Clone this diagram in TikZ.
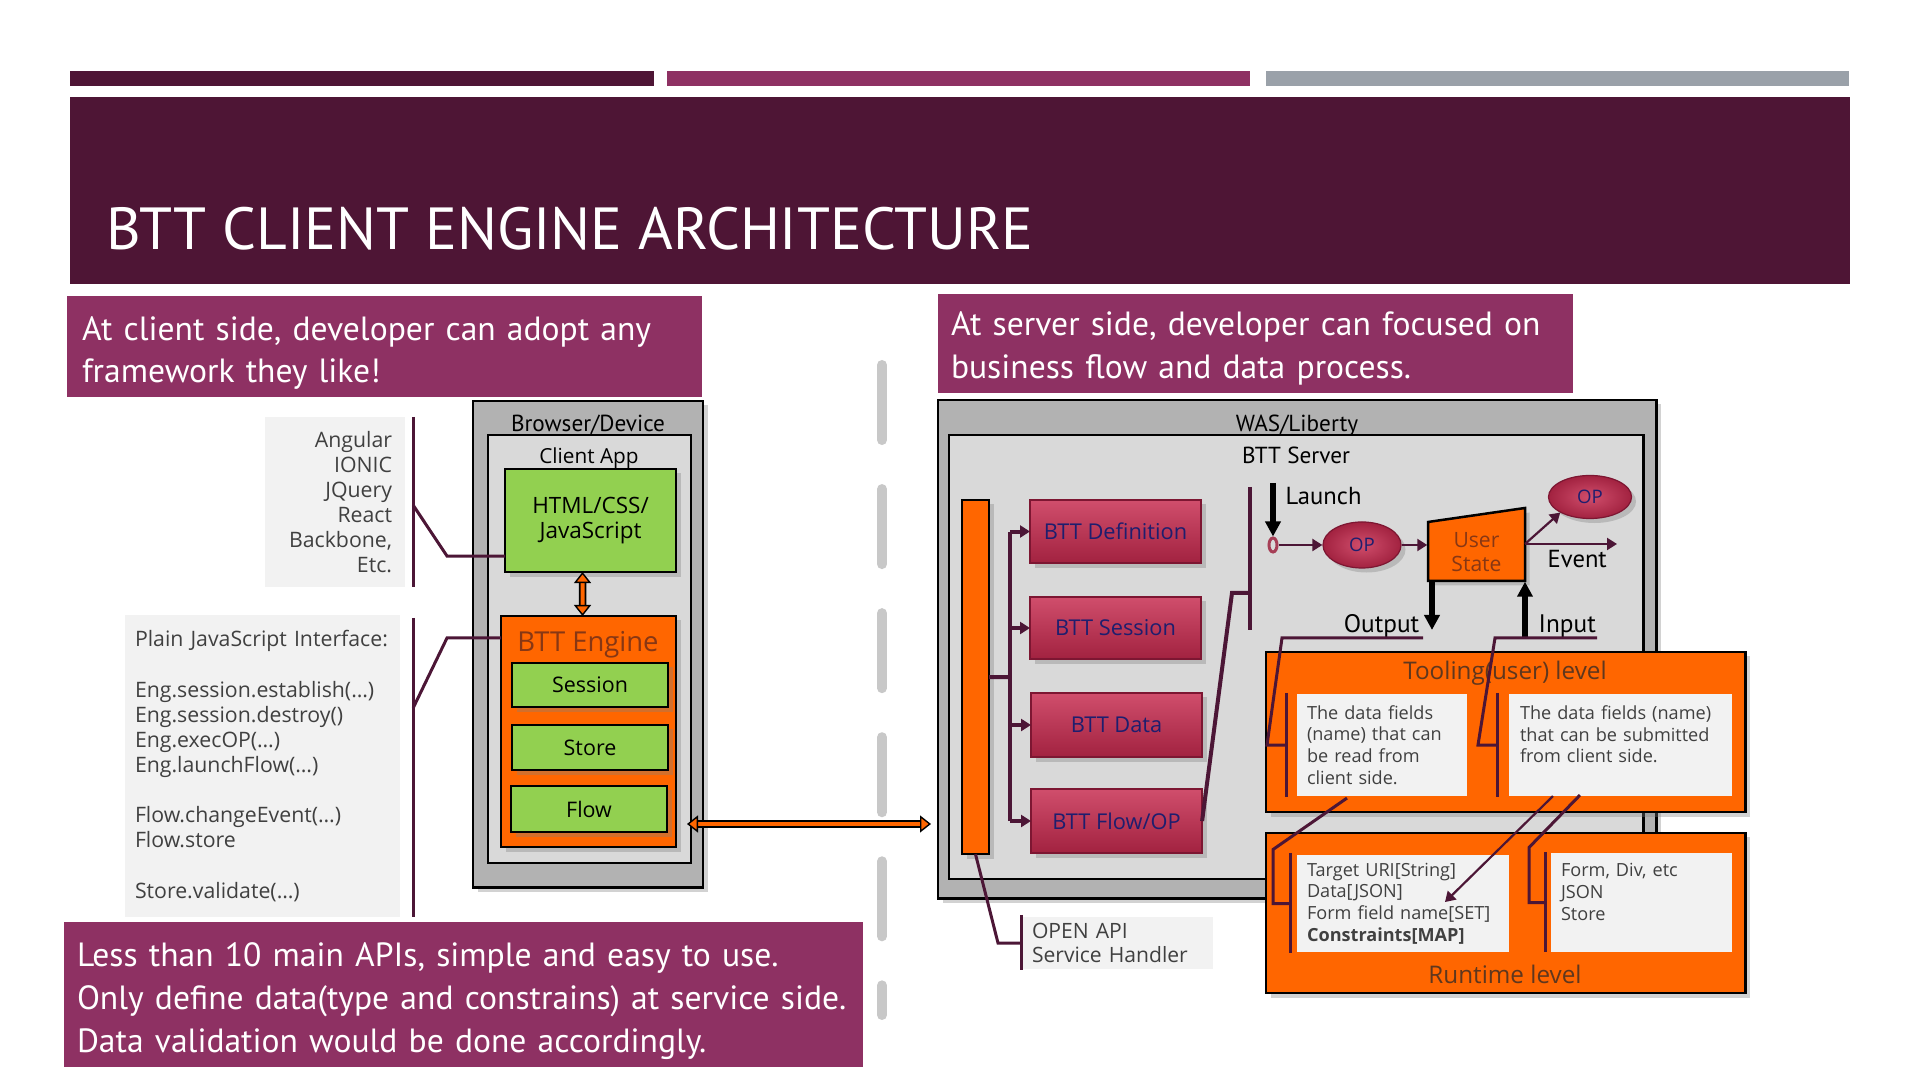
\documentclass[tikz,border=0pt]{standalone}
\usepackage{fontspec}
\setmainfont{Open Sans}
\newfontfamily\gill{PT Sans}
\usetikzlibrary{positioning,calc,shadows,arrows.meta,shapes.geometric}

\definecolor{plum}{RGB}{78,21,53}
\definecolor{berry}{RGB}{142,49,99}
\definecolor{slate}{RGB}{154,161,169}
\definecolor{wirecol}{RGB}{76,22,54}
\definecolor{btorange}{RGB}{255,102,0}
\definecolor{leaf}{RGB}{146,208,80}
\definecolor{paper}{RGB}{242,242,242}
\definecolor{ink}{RGB}{64,64,64}
\definecolor{navy}{RGB}{30,30,110}
\definecolor{rust}{RGB}{135,55,20}
\definecolor{bark}{RGB}{95,55,30}
\definecolor{shellgray}{RGB}{178,178,178}
\definecolor{panegray}{RGB}{217,217,217}
\definecolor{splitgray}{RGB}{200,200,200}
\definecolor{redtop}{RGB}{208,78,108}
\definecolor{redbot}{RGB}{162,34,64}
\definecolor{redline}{RGB}{125,22,50}

% invisible strut that lowers the text block of a banner
\newcommand\lift[1]{\rule{0pt}{#1}}

\tikzset{
    sized/.style 2 args={anchor=north west, minimum width=#1cm, minimum height=#2cm, inner sep=0pt, outer sep=0pt},
    castshadow/.style={drop shadow={shadow xshift=0.045cm, shadow yshift=-0.045cm, opacity=0.35}},
    banner/.style={fill=berry, text=white, align=left, font=\gill\fontsize{9.55}{12.2}\selectfont},
    panel/.style={fill=paper, text=ink, font=\fontsize{6.05}{7.15}\selectfont},
    smallpanel/.style={fill=paper, text=ink, align=left, font=\fontsize{5.15}{6.2}\selectfont},
    shell/.style={fill=shellgray, draw=black, line width=0.025cm, castshadow},
    pane/.style={fill=panegray, draw=black, line width=0.025cm},
    leafbox/.style={fill=leaf, draw=black, line width=0.025cm, align=center, font=\fontsize{6.1}{7.2}\selectfont, castshadow},
    engbox/.style={fill=btorange, draw=black, line width=0.025cm, castshadow},
    redbox/.style={top color=redtop, bottom color=redbot, draw=redline, line width=0.015cm, text=navy, font=\fontsize{6.2}{7}\selectfont, castshadow},
    opnode/.style={ellipse, inner sep=0pt, draw=redline, line width=0.012cm, inner color=redtop, outer color=redbot, text=navy, font=\fontsize{5.3}{6}\selectfont, castshadow},
    lbl/.style={anchor=base, inner sep=0pt, font=\gill\fontsize{6.6}{8}\selectfont},
    levellbl/.style={anchor=base, text=bark, font=\fontsize{6.9}{8}\selectfont},
    wire/.style={draw=wirecol, line width=0.04cm},
    bracket/.style={draw=wirecol, line width=0.03cm},
    thinwire/.style={draw=wirecol, line width=0.022cm},
    arrowed/.style={-{Triangle[length=0.1cm,width=0.12cm]}},
    heavy/.style={draw=black, line width=0.055cm, -{Triangle[length=0.15cm,width=0.15cm]}},
    fatback/.style={draw=black, line width=0.075cm, shorten <=0.09cm, shorten >=0.09cm},
    fatfront/.style={draw=btorange, line width=0.04cm, >={Triangle[color=black,fill=btorange,length=0.11cm,width=0.17cm,line width=0.4pt]}, <->},
    splitline/.style={draw=splitgray, line width=0.1cm, line cap=round, dash pattern=on 0.75cm off 0.49cm},
}

\begin{document}
\begin{tikzpicture}[x=0.01cm, y=-0.01cm]
    \fill[white] (0,0) rectangle (1920,1080);
    \useasboundingbox (0,0) rectangle (1920,1080);

    % title area
    \foreach \xa/\xb/\c in {70/654/plum, 667/1250/berry, 1266/1849/slate}
        \fill[\c] (\xa,71) rectangle (\xb,86);
    \node[sized={17.79}{1.87}, fill=plum] (band) at (70,97) {};
    \node[anchor=base west, inner sep=0pt, text=white, font=\gill\fontsize{16.9}{18}\selectfont] (title) at (106,250) {BTT CLIENT ENGINE ARCHITECTURE};

    \node[banner, sized={6.35}{1.01}, inner xsep=0.15cm, text width=6.05cm] (hdrL) at (67,296) {\lift{10.5pt}At client side, developer can adopt any\\framework they like!};
    \node[banner, sized={6.35}{0.99}, inner xsep=0.13cm, text width=6.09cm] (hdrR) at (938,294) {\lift{9.8pt}At server side, developer can focused on\\business flow and data process.};
    \node[banner, sized={7.99}{1.45}, inner xsep=0.13cm, text width=7.73cm] (note) at (64,922) {\lift{10.5pt}Less than 10 main APIs, simple and easy to use.\\Only define data(type and constrains) at service side.\\Data validation would be done accordingly.};

    \draw[splitline] (882,365) -- (882,1015);

    % client side
    \node[panel, sized={1.40}{1.70}, align=right, inner xsep=0.13cm, text width=1.14cm] (fwbox) at (265,417) {Angular\\IONIC\\JQuery\\React\\Backbone,\\Etc.};
    \node[panel, sized={2.75}{3.02}, align=left, inner xsep=0.1cm, text width=2.55cm] (apibox) at (125,615) {Plain JavaScript Interface:\\~\\Eng.session.establish(…)\\Eng.session.destroy()\\Eng.execOP(…)\\Eng.launchFlow(…)\\~\\Flow.changeEvent(…)\\Flow.store\\~\\Store.validate(…)};

    \node[shell, sized={2.30}{4.86}] (browser) at (473,401) {};
    \node[lbl] (browserlbl) at (588,432) {Browser/Device};
    \node[pane, sized={2.03}{4.28}] (client) at (488,435) {};
    \node[anchor=base, font=\fontsize{5.9}{7}\selectfont] (clientlbl) at (589,464) {Client App};
    \node[leafbox, sized={1.71}{1.03}, font=\fontsize{6.4}{7.2}\selectfont] (html) at (505,469) {HTML/CSS/\\JavaScript};
    \node[engbox, sized={1.75}{2.31}] (engine) at (501,616) {};
    \node[anchor=base, text=rust, font=\fontsize{7.8}{9}\selectfont] (enginelbl) at (588,652) {BTT Engine};
    \node[leafbox, sized={1.56}{0.44}] (sess) at (512,663) {Session};
    \node[leafbox, sized={1.56}{0.45}] (store) at (512,725) {Store};
    \node[leafbox, sized={1.56}{0.46}] (flow) at (511,786) {Flow};

    \draw[fatback] ([xshift=-0.08cm]html.south) -- ([xshift=-0.06cm]engine.north);
    \draw[fatfront] ([xshift=-0.08cm]html.south) -- ([xshift=-0.06cm]engine.north);

    \draw[bracket] ($(fwbox.north east)+(8,0)$) -- ($(fwbox.south east)+(8,0)$);
    \draw[bracket] ($(fwbox.east)+(8,3)$) -- ($(html.south west)+(-58,-16)$) -- ($(html.south west)+(0,-16)$);
    \draw[bracket] ($(apibox.north east)+(13,3)$) -- ($(apibox.south east)+(13,0)$);
    \draw[bracket] ($(apibox.north east)+(13,93)$) -- ($(engine.north west)+(-54,22)$) -- ($(engine.north west)+(0,22)$);

    % server side
    \node[shell, sized={7.18}{4.98}] (was) at (938,400) {};
    \node[lbl] (waslbl) at (1297,432) {WAS/Liberty};
    \node[pane, sized={6.94}{4.44}] (server) at (949,435) {};
    \node[lbl] (serverlbl) at (1296,464) {BTT Server};

    \coordinate (cliport) at (687,824);
    \coordinate (srvport) at (931,824);
    \draw[fatback] (cliport) -- (srvport);
    \draw[fatfront] (cliport) -- (srvport);

    \node[engbox, sized={0.27}{3.54}] (apibar) at (962,500) {};
    \node[redbox, sized={1.71}{0.63}] (def) at (1030,500) {BTT Definition};
    \node[redbox, sized={1.71}{0.62}] (sessn) at (1030,597) {BTT Session};
    \node[redbox, sized={1.71}{0.64}] (data) at (1031,693) {BTT Data};
    \node[redbox, sized={1.71}{0.64}] (flowop) at (1031,789) {BTT Flow/OP};

    \coordinate (jn) at (1010,677);
    \draw[wire] (apibar.east) -- (jn);
    \draw[wire] (jn |- def.west) -- (jn |- flowop.west);
    \foreach \blk in {def,sessn,data,flowop}
        \draw[wire, arrowed] (jn |- \blk.west) -- (\blk.west);

    \coordinate (hub) at (1250,593);
    \coordinate (hubtop) at (1250,487);
    \coordinate (hubbot) at (1250,630);
    \draw[wire] (hubtop) -- (hubbot);
    \draw[wire] (flowop.east) -- ($(hub)+(-18,0)$) -- (hub);

    % flow of the user state
    \coordinate (launchsrc) at (1273,483);
    \node[ellipse, draw=redtop!80!black, fill=panegray, line width=0.03cm, minimum width=0.08cm, minimum height=0.14cm, inner sep=0pt] (ring) at (1273,545) {};
    \draw[heavy] (launchsrc) -- (ring.north);
    \node[lbl, anchor=base west, font=\gill\fontsize{7}{8}\selectfont] (launchlbl) at (1285,505) {Launch};
    \node[opnode, minimum width=0.78cm, minimum height=0.46cm] (op1) at (1362,545) {OP};
    \filldraw[fill=btorange, draw=black, line width=0.025cm, castshadow] (1428,581) -- (1525,581) -- (1525,508) -- (1428,522) -- cycle;
    \node[minimum width=0.97cm, minimum height=0.58cm, inner sep=0pt, align=center, text=rust, font=\fontsize{6}{7}\selectfont] (ustate) at (1476.5,552) {User\\State};
    \node[opnode, minimum width=0.83cm, minimum height=0.43cm] (op2) at (1590,497) {OP};
    \coordinate (stateout) at (1525,544);
    \coordinate (eventout) at (1617,544);
    \draw[thinwire, arrowed] (ring.east) -- (op1.west);
    \draw[thinwire, arrowed] (op1.east) -- (op1.east -| ustate.west);
    \draw[thinwire, arrowed] (stateout) -- (op2.south west);
    \draw[thinwire, arrowed] (stateout) -- (eventout);
    \node[lbl, anchor=base west, font=\gill\fontsize{7}{8}\selectfont] (eventlbl) at (1547,568) {Event};

    \coordinate (outtip) at (1432,630);
    \coordinate (insrc) at (1525,637);
    \draw[heavy] (ustate.south west -| outtip) -- (outtip);
    \draw[heavy] (insrc) -- (insrc |- ustate.south);
    \node[lbl, anchor=base east, font=\gill\fontsize{7.2}{8}\selectfont] (outlbl) at (1420,633) {Output};
    \node[lbl, anchor=base west, font=\gill\fontsize{7.2}{8}\selectfont] (inlbl) at (1538,633) {Input};

    % levels
    \node[engbox, sized={4.79}{1.60}] (tool) at (1266,652) {};
    \node[levellbl] (toollbl) at (1505,680) {Tooling(user) level};
    \node[smallpanel, sized={1.70}{1.02}, inner xsep=0.1cm, text width=1.5cm] (tb1) at (1297,694) {The data fields\\(name) that can\\be read from\\client side.};
    \node[smallpanel, sized={2.23}{1.02}, inner xsep=0.11cm, text width=2.01cm] (tb2) at (1509,694) {The data fields (name)\\that can be submitted\\from client side.\\~};

    \node[engbox, sized={4.79}{1.60}] (rt) at (1266,833) {};
    \node[levellbl] (rtlbl) at (1505,984) {Runtime level};
    \node[smallpanel, sized={2.12}{0.97}, inner xsep=0.1cm, text width=1.92cm] (rb1) at (1297,855) {Target URI[String]\\Data[JSON]\\Form field name[SET]\\\textbf{Constraints[MAP]}};
    \node[smallpanel, sized={1.81}{0.99}, inner xsep=0.1cm, text width=1.61cm] (rb2) at (1551,853) {Form, Div, etc\\JSON\\Store\\~};

    \coordinate (outln) at (1423,638);
    \coordinate (inln) at (1597,638);
    \draw[bracket] (outln) -- ++(-141,0) -- ($(tb1.west)+(-30,0)$) -- ($(tb1.west)+(-11,0)$);
    \draw[bracket] ($(tb1.north west)+(-11,-1)$) -- ($(tb1.south west)+(-11,1)$);
    \draw[bracket] (inln) -- ++(-102,0) -- ($(tb2.west)+(-31,0)$) -- ($(tb2.west)+(-12,0)$);
    \draw[bracket] ($(tb2.north west)+(-12,-1)$) -- ($(tb2.south west)+(-12,1)$);

    \draw[bracket] ($(tb1.south west)+(50,2)$) -- ($(rb1.west)+(-24,-54)$) -- ($(rb1.west)+(-24,0)$) -- ($(rb1.west)+(-7,0)$);
    \draw[bracket] ($(rb1.north west)+(-7,-2)$) -- ($(rb1.south west)+(-7,1)$);
    \draw[bracket] ($(tb2.south west)+(71,-1)$) -- ($(rb2.west)+(-22,-55)$) -- ($(rb2.west)+(-22,0)$) -- ($(rb2.west)+(-6,0)$);
    \draw[bracket] ($(rb2.north west)+(-6,-1)$) -- ($(rb2.south west)+(-6,0)$);
    \draw[thinwire, arrowed] ($(tb2.south west)+(44,0)$) -- ($(rb1.south west)+(148,-50)$);

    % open api handler
    \node[panel, sized={1.91}{0.52}, align=left, inner xsep=0.1cm, text width=1.71cm, font=\fontsize{6}{6.8}\selectfont] (oapi) at (1022,917) {OPEN API\\Service Handler};
    \draw[bracket] (apibar.south) -- ($(oapi.west)+(-24,0)$) -- (oapi.west);
    \draw[bracket] ($(oapi.north west)+(-1,-2)$) -- ($(oapi.south west)+(-1,1)$);
\end{tikzpicture}
\end{document}
